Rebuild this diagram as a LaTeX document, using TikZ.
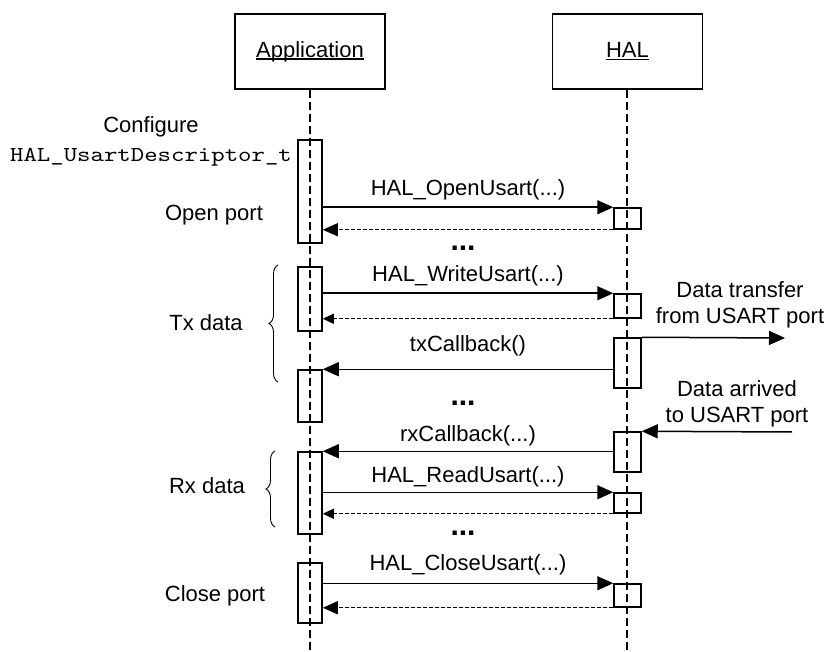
\documentclass[tikz,border=0pt]{standalone}
\usepackage{fontspec}
\setmainfont{Liberation Sans}
\newfontfamily\codefont{lmmono10-regular.otf}[FakeStretch=1.2]
\usepackage{tikz}
\usetikzlibrary{arrows.meta,positioning,decorations.pathreplacing}
\newcommand\lifename[1]{\setbox0\hbox{#1}\rlap{\rule[-2.5pt]{\wd0}{1.3pt}}\box0}

\begin{document}
\begin{tikzpicture}[x=1pt,y=-1pt,
  head/.style={draw,line width=1.6pt,minimum width=150pt,minimum height=75pt,font=\fontsize{22}{26}\selectfont},
  act/.style={draw,line width=1.5pt,inner sep=0pt},
  life/.style={line width=2pt,dash pattern=on 8pt off 4pt},
  call/.style={line width=1.5pt,-{Triangle[length=16pt,width=14pt]}},
  ret/.style={line width=1.3pt,dash pattern=on 4pt off 2pt,-{Triangle[length=11pt,width=10pt]}},
  bigret/.style={ret,-{Triangle[length=15pt,width=13pt]}},
  lbl/.style={font=\fontsize{22}{26}\selectfont,align=center},
  code/.style={font=\codefont\fontsize{21.3}{24}\selectfont},
  dots/.style={font=\fontsize{30}{30}\selectfont\bfseries,inner sep=0pt},
  brace/.style={line width=0.9pt,decorate,decoration={brace,amplitude=9pt}}]
  \useasboundingbox (0,0) rectangle (830,652);
  \node[head] (app) at (310,51.5) {\lifename{Application}};
  \node[head] (hal) at (627.5,51.5) {\lifename{HAL}};
  \draw[life] (app.south) -- (310,652);
  \draw[life] (hal.south -| 627,0) -- (627,652);
  \foreach \n/\t/\b in {a1/140/243,a2/267/331,a3/370/422,a4/452/534,a5/563/623}
    \node[act,minimum width=24pt,minimum height={(\b-\t)*1pt}] (\n) at (310,{(\t+\b)/2}) {};
  \foreach \n/\t/\b in {h1/208/229,h2/294/318,h3/338/388,h4/432/472,h5/493/513,h6/584/607}
    \node[act,minimum width=27pt,minimum height={(\b-\t)*1pt}] (\n) at (627.5,{(\t+\b)/2}) {};
  \coordinate (usartout) at (785,338);
  \coordinate (usartin) at (792,432);
  \draw[call] (a1.east |- h1.north) -- (h1.north west) node[lbl,midway,above=3pt] {HAL\_OpenUsart(...)};
  \draw[bigret] (h1.south west) -- (a1.east |- h1.south);
  \draw[call] (a2.east |- h2.north) -- (h2.north west) node[lbl,midway,above=3pt] {HAL\_WriteUsart(...)};
  \draw[ret] (h2.south west) -- (a2.east |- h2.south);
  \draw[call] (h3.north east) -- (usartout);
  \draw[call] (h3.west |- a3.north) -- (a3.north east) node[lbl,midway,above=9pt] {txCallback()};
  \draw[call] (usartin) -- (h4.north east);
  \draw[call] (h4.west |- a4.north) -- (a4.north east) node[lbl,midway,above=1pt] {rxCallback(...)};
  \draw[call] (a4.east |- h5.north) -- (h5.north west) node[lbl,midway,above=1.5pt] {HAL\_ReadUsart(...)};
  \draw[ret] (h5.south west) -- (a4.east |- h5.south);
  \draw[call] (a5.east |- h6.north) -- (h6.north west) node[lbl,midway,above=4pt] {HAL\_CloseUsart(...)};
  \draw[bigret] (h6.south west) -- (a5.east |- h6.south);
  \node[dots] (d1) at (463,248) {...};
  \node[dots] (d2) at (463,403) {...};
  \node[dots] (d3) at (463,533) {...};
  \node[lbl] (xfer) at (740,305) {Data transfer\\from USART port};
  \node[lbl] (arrived) at (737,404) {Data arrived\\to USART port};
  \node[lbl] (cfg) at (151,127) {Configure};
  \node[code] (desc) at (151,157) {HAL\_UsartDescriptor\_t};
  \node[lbl] (open) at (214,215) {Open port};
  \node[lbl] (tx) at (206,323) {Tx data};
  \node[lbl] (rx) at (207,486) {Rx data};
  \node[lbl] (close) at (215,596) {Close port};
  \draw[brace] (278,382) -- (278,265);
  \draw[brace] (275,527) -- (275,451);
\end{tikzpicture}
\end{document}
